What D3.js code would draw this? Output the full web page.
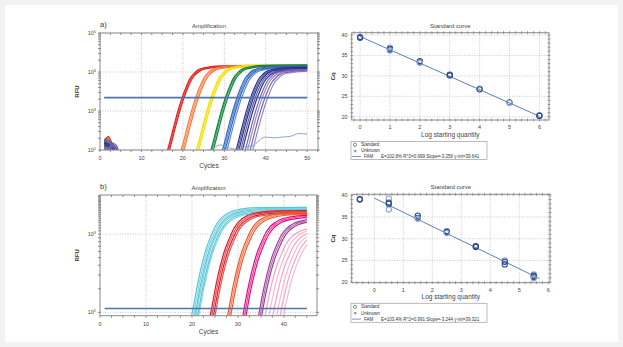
<!DOCTYPE html>
<html>
<head>
<meta charset="utf-8">
<script src="https://cdn.jsdelivr.net/npm/d3@7"></script>
<style>
  body { margin: 0; background: #f2f2f2; }
  text { font-family: "Liberation Sans", Arial, sans-serif; }
</style>
</head>
<body>
<div id="chart"></div>
<script>
// ---------- data ----------
// shared amplification shape: cycles relative to Ct, and fraction of plateau
const shapeRelA = [-6, -3.5, -2, -1, 0, 1, 2, 3, 4, 6, 8, 12, 30]
const shapeFracA = [0.002, 0.0067, 0.027, 0.067, 0.147, 0.28, 0.47, 0.63, 0.77, 0.88, 0.94, 0.97, 1.0]
const shapeRelB = [-3, -1, 0, 1, 2, 3, 4, 5, 6, 8, 10, 14, 30]
const shapeFracB = [0.01, 0.028, 0.053, 0.11, 0.2, 0.32, 0.45, 0.6, 0.72, 0.87, 0.94, 0.99, 1.0]

// panel a groups: colour, Ct of each replicate, plateau, early baseline noise (cycles 1..5)
const groupsA = [
  { color: "#e62020", cts: [19.8, 20.0, 20.2], plateau: 15000, early: [170, 220, 140, 95, 60] },
  { color: "#f47a3a", cts: [23.1, 23.4, 23.7], plateau: 15200, early: [150, 190, 120, 90, 60] },
  { color: "#f2e200", cts: [26.8, 27.0, 27.3], plateau: 15500, early: [130, 160, 110, 85, 60] },
  { color: "#14843c", cts: [30.3, 30.5, 30.8], plateau: 15500, early: [140, 150, 130, 110, 70] },
  { color: "#2e66c0", cts: [33.0, 33.3, 33.6, 34.0], plateau: 14500, early: [190, 170, 150, 100, 60] },
  { color: "#2a2f8a", cts: [36.2, 36.5, 36.8, 37.2, 37.6], plateau: 13500, early: [160, 140, 120, 90, 60] },
  { color: "#7a62b0", cts: [38.3, 38.8, 39.4, 40.0], plateau: 12000, early: [120, 110, 150, 130, 70] }
]
const ntcCycles = [13, 25, 27, 29, 31, 33, 35, 37, 39, 40, 42, 44, 46, 48, 50]
const ntcRfu = [60, 95, 105, 135, 115, 105, 120, 130, 200, 215, 205, 215, 225, 265, 255]
const thresholdA = 2200

const groupsB = [
  { color: "#58c6d6", cts: [20.3, 20.6, 20.9, 21.1, 21.4, 21.6], plateau: 2200 },
  { color: "#e01b23", cts: [24.2, 24.5, 24.8, 25.1], plateau: 2000 },
  { color: "#f0582a", cts: [27.9, 28.2, 28.5], plateau: 1900 },
  { color: "#e5097f", cts: [31.1, 31.4, 31.7], plateau: 1750 },
  { color: "#a03d98", cts: [34.4, 34.7, 35.0], plateau: 1600 },
  { color: "#f4a3c6", cts: [35.5, 36.3, 37.1, 37.9, 38.6, 39.3], plateau: 1250 }
]
const thresholdB = 112

// standard curves: log quantity and Cq of each well
const stdXA = [0, 0, 1, 1, 1, 1, 2, 2, 2, 3, 3, 4, 4, 5, 5, 6, 6]
const stdCqA = [39.5, 39.3, 36.9, 36.6, 36.4, 36.2, 33.6, 33.3, 33.2, 30.3, 30.1, 26.9, 26.7, 23.5, 23.4, 20.3, 20.2]
const fitA = { slope: -3.256, yint: 39.641, x0: 0, x1: 6 }
const legendA = "E=102.8% R^2=0.999 Slope=-3.256 y-int=39.641"

const stdXB = [-0.5, -0.5, 0.5, 0.5, 0.5, 0.5, 1.5, 1.5, 1.5, 2.5, 2.5, 2.5, 3.5, 3.5, 4.5, 4.5, 4.5, 5.5, 5.5, 5.5, 5.5]
const stdCqB = [39.1, 39.0, 39.2, 38.3, 38.0, 36.7, 35.3, 34.8, 34.6, 31.7, 31.5, 31.3, 28.3, 28.1, 25.0, 24.7, 24.1, 21.8, 21.5, 21.2, 20.9]
const fitB = { slope: -3.244, yint: 39.321, x0: 0, x1: 5.7 }
const legendB = "E=103.4% R^2=0.991 Slope=-3.244 y-int=39.321"

// ---------- drawing ----------
const svg = d3.select("#chart").append("svg")
  .attr("width", 623).attr("height", 347)

svg.append("rect").attr("x", 0).attr("y", 0).attr("width", 623).attr("height", 347).attr("fill", "#f2f2f2")
svg.append("rect").attr("x", 5).attr("y", 5).attr("width", 613).attr("height", 337).attr("fill", "#fff")

const GRID = "#c8c8c8"
const FRAME = "#8a8a8a"
const TXT = "#444"

function frame(g, x0, x1, y0, y1) {
  g.append("rect").attr("x", x0).attr("y", y0).attr("width", x1 - x0).attr("height", y1 - y0)
    .attr("fill", "none").attr("stroke", FRAME).attr("stroke-width", 1)
}

function drawAmp(opt) {
  const g = svg.append("g")
  const x = d3.scaleLinear().domain(opt.xDomain).range([opt.left, opt.right])
  const y = d3.scaleLog().domain(opt.yDomain).range([opt.bottom, opt.top])

  // grid
  g.selectAll(".gx").data(opt.xTicks.filter(d => d > 0)).enter().append("line")
    .attr("x1", d => x(d)).attr("x2", d => x(d)).attr("y1", opt.top).attr("y2", opt.bottom)
    .attr("stroke", GRID).attr("stroke-dasharray", "1,1.5")
  g.selectAll(".gy").data(opt.yTicks).enter().append("line")
    .attr("x1", opt.left).attr("x2", opt.right).attr("y1", d => y(d)).attr("y2", d => y(d))
    .attr("stroke", GRID).attr("stroke-dasharray", "1,1.5")

  // minor ticks on frame
  const minorX = d3.range(opt.xDomain[0], opt.xDomain[1], 2.5)
  g.selectAll(".mx").data(minorX).enter().append("line")
    .attr("x1", d => x(d)).attr("x2", d => x(d)).attr("y1", opt.top).attr("y2", opt.top + 2)
    .attr("stroke", FRAME)
  g.selectAll(".mxb").data(minorX).enter().append("line")
    .attr("x1", d => x(d)).attr("x2", d => x(d)).attr("y1", opt.bottom).attr("y2", opt.bottom + 2)
    .attr("stroke", FRAME)
  const minorY = y.ticks(30).filter(d => d >= opt.yDomain[0] && d <= opt.yDomain[1])
  g.selectAll(".my").data(minorY).enter().append("line")
    .attr("x1", opt.left - 2).attr("x2", opt.left + 1).attr("y1", d => y(d)).attr("y2", d => y(d))
    .attr("stroke", FRAME)
  g.selectAll(".myr").data(minorY).enter().append("line")
    .attr("x1", opt.right - 1).attr("x2", opt.right + 2).attr("y1", d => y(d)).attr("y2", d => y(d))
    .attr("stroke", FRAME)

  // curves
  const clipId = "clip" + opt.id
  svg.append("clipPath").attr("id", clipId).append("rect")
    .attr("x", x(1)).attr("y", opt.top).attr("width", x(opt.lastCycle) - x(1)).attr("height", opt.bottom - opt.top)
  const cg = g.append("g").attr("clip-path", `url(#${clipId})`)
  const line = d3.line().x(d => x(d[0])).y(d => y(Math.max(d[1], 1))).curve(d3.curveMonotoneX)

  opt.groups.forEach(grp => {
    grp.cts.forEach((ct, i) => {
      let pts = []
      if (grp.early) grp.early.forEach((v, k) => pts.push([k + 1, v * (1 - 0.08 * i)]))
      const rel = opt.shapeRel, frac = opt.shapeFrac
      rel.forEach((r, k) => {
        const c = ct + r
        if (c > (grp.early ? grp.early.length + 0.5 : 0)) pts.push([c, frac[k] * grp.plateau * (1 - 0.03 * i)])
      })
      if (!grp.early) pts.unshift([1, frac[0] * grp.plateau * 0.5])
      cg.append("path").datum(pts).attr("d", line)
        .attr("fill", "none").attr("stroke", grp.color)
        .attr("stroke-width", opt.lineW).attr("stroke-opacity", i % 2 ? 0.75 : 1)
    })
  })
  if (opt.ntc) {
    cg.append("path").datum(opt.ntc).attr("d", line)
      .attr("fill", "none").attr("stroke", "#7d9dcb").attr("stroke-width", 0.9)
  }

  // threshold
  g.append("line").attr("x1", x(1)).attr("x2", x(opt.lastCycle))
    .attr("y1", y(opt.threshold)).attr("y2", y(opt.threshold))
    .attr("stroke", "#4f74ad").attr("stroke-width", 1.6)

  frame(g, opt.left, opt.right, opt.top, opt.bottom)

  // tick labels
  g.selectAll(".lx").data(opt.xTicks).enter().append("text")
    .attr("x", d => x(d)).attr("y", opt.bottom + 10)
    .attr("text-anchor", "middle").attr("font-size", 5.5).attr("fill", TXT)
    .text(d => d)
  opt.yTicks.forEach(d => {
    const t = g.append("text").attr("x", opt.left - 4).attr("y", y(d) + 2)
      .attr("text-anchor", "end").attr("font-size", 5.5).attr("fill", TXT)
    t.append("tspan").text("10")
    t.append("tspan").attr("dy", -2.5).attr("font-size", 4).text(Math.round(Math.log10(d)))
  })

  g.append("text").attr("x", (opt.left + opt.right) / 2).attr("y", opt.top - 5)
    .attr("text-anchor", "middle").attr("font-size", 6).attr("fill", TXT).text("Amplification")
  g.append("text").attr("x", opt.left).attr("y", opt.top - 6)
    .attr("font-size", 7.5).attr("fill", "#333").text(opt.label)
  g.append("text").attr("x", (opt.left + opt.right) / 2).attr("y", opt.bottom + 18)
    .attr("text-anchor", "middle").attr("font-size", 6.5).attr("fill", TXT).text("Cycles")
  g.append("text").attr("transform", `translate(${opt.left - 21},${(opt.top + opt.bottom) / 2}) rotate(-90)`)
    .attr("text-anchor", "middle").attr("font-size", 6).attr("font-weight", "bold").attr("fill", "#333").text("RFU")
}

function drawStd(opt) {
  const g = svg.append("g")
  const x = d3.scaleLinear().domain(opt.xDomain).range([opt.left, opt.right])
  const y = d3.scaleLinear().domain(opt.yDomain).range([opt.bottom, opt.top])
  const xt = d3.range(0, 7)
  const yt = [20, 25, 30, 35, 40]

  g.selectAll(".gx").data(xt).enter().append("line")
    .attr("x1", d => x(d)).attr("x2", d => x(d)).attr("y1", opt.top).attr("y2", opt.bottom)
    .attr("stroke", GRID).attr("stroke-dasharray", "1,1.5")
  g.selectAll(".gy").data(yt).enter().append("line")
    .attr("x1", opt.left).attr("x2", opt.right).attr("y1", d => y(d)).attr("y2", d => y(d))
    .attr("stroke", GRID).attr("stroke-dasharray", "1,1.5")

  const minorX = d3.range(Math.ceil(opt.xDomain[0] * 5) / 5, opt.xDomain[1], 0.2)
  ;[opt.top, opt.bottom].forEach(yy => {
    g.selectAll(null).data(minorX).enter().append("line")
      .attr("x1", d => x(d)).attr("x2", d => x(d)).attr("y1", yy - 1.5).attr("y2", yy + 1.5)
      .attr("stroke", FRAME).attr("stroke-width", 0.8)
  })
  const minorY = d3.range(Math.ceil(opt.yDomain[0]), opt.yDomain[1], 1)
  ;[opt.left, opt.right].forEach(xx => {
    g.selectAll(null).data(minorY).enter().append("line")
      .attr("x1", xx - 1.5).attr("x2", xx + 1.5).attr("y1", d => y(d)).attr("y2", d => y(d))
      .attr("stroke", FRAME).attr("stroke-width", 0.8)
  })
  frame(g, opt.left, opt.right, opt.top, opt.bottom)

  g.append("line")
    .attr("x1", x(opt.fit.x0)).attr("y1", y(opt.fit.yint + opt.fit.slope * opt.fit.x0))
    .attr("x2", x(opt.fit.x1)).attr("y2", y(opt.fit.yint + opt.fit.slope * opt.fit.x1))
    .attr("stroke", "#5b7fb5").attr("stroke-width", 1)

  const pts = opt.xs.map((d, i) => [d, opt.cqs[i]])
  g.selectAll(".pt").data(pts).enter().append("circle")
    .attr("cx", d => x(d[0])).attr("cy", d => y(d[1])).attr("r", 2.6)
    .attr("fill", "none").attr("stroke", (d, i) => i % 3 === 2 ? "#8ea3cc" : "#2d4c8e").attr("stroke-width", 1.1)

  g.selectAll(".lx").data(xt).enter().append("text")
    .attr("x", d => x(d)).attr("y", opt.bottom + 9)
    .attr("text-anchor", "middle").attr("font-size", 5.5).attr("fill", TXT).text(d => d)
  g.selectAll(".ly").data(yt).enter().append("text")
    .attr("x", opt.left - 4).attr("y", d => y(d) + 2)
    .attr("text-anchor", "end").attr("font-size", 5.5).attr("fill", TXT).text(d => d)

  g.append("text").attr("x", (opt.left + opt.right) / 2).attr("y", opt.top - 5)
    .attr("text-anchor", "middle").attr("font-size", 6).attr("fill", TXT).text("Standard curve")
  g.append("text").attr("x", (opt.left + opt.right) / 2).attr("y", opt.bottom + 16.5)
    .attr("text-anchor", "middle").attr("font-size", 6.5).attr("fill", TXT).text("Log starting quantity")
  g.append("text").attr("transform", `translate(${opt.left - 17},${(opt.top + opt.bottom) / 2}) rotate(-90)`)
    .attr("text-anchor", "middle").attr("font-size", 6).attr("font-weight", "bold").attr("fill", "#333").text("Cq")

  // legend
  const lg = g.append("g").attr("transform", `translate(${opt.legendX},${opt.legendY})`)
  lg.append("rect").attr("width", 136).attr("height", opt.legendH)
    .attr("fill", "#fff").attr("stroke", "#aaa").attr("stroke-width", 0.8)
  const rowH = opt.legendH / 3
  lg.append("circle").attr("cx", 4).attr("cy", rowH * 0.55).attr("r", 1.6)
    .attr("fill", "none").attr("stroke", "#555").attr("stroke-width", 0.7)
  lg.append("text").attr("x", 10).attr("y", rowH * 0.55 + 1.6).attr("font-size", 4.5).attr("fill", "#333").text("Standard")
  lg.append("text").attr("x", 4).attr("y", rowH * 1.55 + 1.9).attr("text-anchor", "middle")
    .attr("font-size", 5.5).attr("fill", "#333").text("×")
  lg.append("text").attr("x", 10).attr("y", rowH * 1.55 + 1.6).attr("font-size", 4.5).attr("fill", "#333").text("Unknown")
  lg.append("line").attr("x1", 1).attr("x2", 10).attr("y1", rowH * 2.5).attr("y2", rowH * 2.5)
    .attr("stroke", "#5b7fb5").attr("stroke-width", 0.8)
  lg.append("text").attr("x", 13).attr("y", rowH * 2.5 + 1.6).attr("font-size", 4.5).attr("fill", "#333").text("FAM")
  lg.append("text").attr("x", 30).attr("y", rowH * 2.5 + 1.6).attr("font-size", 4.5).attr("fill", "#333").text(opt.legend)
}

drawAmp({
  id: "a", label: "a)", left: 100, right: 318, top: 33, bottom: 150, lineW: 1.2,
  xDomain: [0, 52.6], yDomain: [100, 1e5], xTicks: [0, 10, 20, 30, 40, 50], yTicks: [1e2, 1e3, 1e4, 1e5],
  lastCycle: 50, groups: groupsA, shapeRel: shapeRelA, shapeFrac: shapeFracA,
  threshold: thresholdA, ntc: ntcCycles.map((c, i) => [c, ntcRfu[i]])
})
drawAmp({
  id: "b", label: "b)", left: 100, right: 317, top: 195, bottom: 315.7, lineW: 1.2,
  xDomain: [0, 47.2], yDomain: [90.6, 3160], xTicks: [0, 10, 20, 30, 40], yTicks: [1e2, 1e3],
  lastCycle: 45, groups: groupsB, shapeRel: shapeRelB, shapeFrac: shapeFracB,
  threshold: thresholdB
})
drawStd({
  left: 351.7, right: 549, top: 32.7, bottom: 120, xDomain: [-0.28, 6.32], yDomain: [19.2, 40.56],
  xs: stdXA, cqs: stdCqA, fit: fitA, legend: legendA, legendX: 351, legendY: 141.5, legendH: 18
})
drawStd({
  left: 351.7, right: 550, top: 194.3, bottom: 282.7, xDomain: [-0.78, 6.06], yDomain: [19.9, 40.2],
  xs: stdXB, cqs: stdCqB, fit: fitB, legend: legendB, legendX: 351, legendY: 303.3, legendH: 19
})
</script>
</body>
</html>
